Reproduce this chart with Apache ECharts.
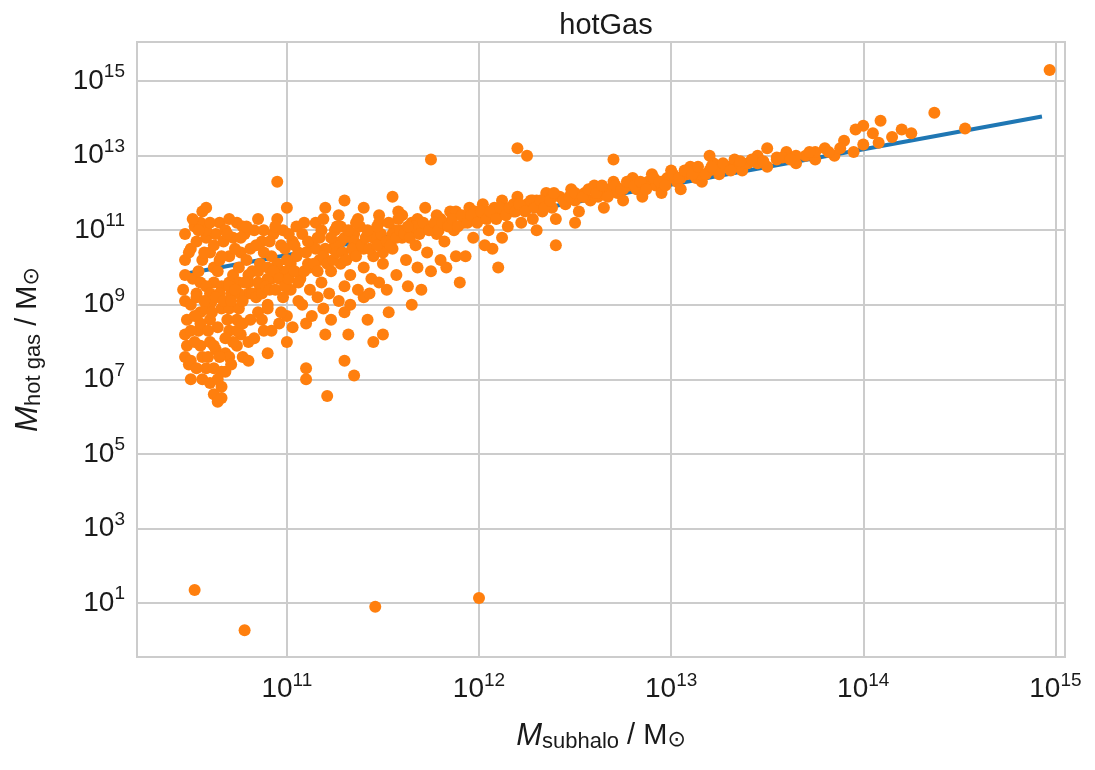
<!DOCTYPE html>
<html><head><meta charset="utf-8">
<script src="https://cdn.jsdelivr.net/npm/echarts@6/dist/echarts.min.js"></script>
<style>html,body{margin:0;padding:0;background:#fff}#c{width:1095px;height:770px}</style>
</head><body><div id="c"></div>
<script>
// all values are log10 of masses in solar masses
var xTicks = [11, 12, 13, 14, 15];
var yTicks = [1, 3, 5, 7, 9, 11, 13, 15];
// fitted relation (blue line)
var fitLine = [[10.48, 9.84], [14.93, 14.05]];
// galaxies: [log M_subhalo, log M_hot gas]
var galaxies = [
[10.47,10.9],[10.47,10.2],[10.46,9.4],[10.47,9.1],[10.48,8.6],[10.47,8.2],[10.48,7.9],[10.47,7.6],[10.49,7.4],[10.5,7.5],
[10.5,9.0],[10.51,9.7],[10.5,10.5],[10.52,11.1],[10.55,11.2],[10.56,11.5],[10.58,11.6],[10.58,10.8],[10.56,10.2],[10.55,9.6],
[10.53,9.3],[10.55,8.8],[10.54,8.3],[10.55,7.9],[10.56,7.6],[10.58,7.3],[10.6,8.0],[10.6,8.6],[10.61,9.1],[10.62,9.6],
[10.62,10.0],[10.6,10.4],[10.63,10.9],[10.65,11.2],[10.67,10.7],[10.66,9.5],[10.66,8.9],[10.64,8.4],[10.63,7.8],[10.62,7.3],
[10.6,6.9],[10.62,6.6],[10.64,6.4],[10.66,6.8],[10.68,7.2],[10.68,7.7],[10.7,8.3],[10.7,8.9],[10.71,9.3],[10.72,9.8],
[10.7,10.3],[10.72,10.8],[10.74,11.2],[10.77,11.1],[10.76,10.4],[10.75,9.6],[10.75,8.9],[10.76,8.2],[10.77,7.6],[10.74,7.9],
[10.8,7.5],[10.8,8.0],[10.81,8.6],[10.8,9.3],[10.82,9.9],[10.81,10.5],[10.83,11.0],[10.85,11.3],[10.87,10.7],[10.86,10.1],
[10.86,9.5],[10.85,8.8],[10.88,8.3],[10.9,7.7],[10.9,9.0],[10.92,9.7],[10.92,10.3],[10.93,10.9],[10.95,11.3],[10.97,10.6],
[10.97,9.9],[10.98,9.2],[10.96,8.5],[11.0,8.0],[11.0,8.7],[11.02,9.4],[11.02,10.1],[11.03,10.7],[11.05,11.1],[11.06,10.4],
[11.07,9.7],[11.08,9.0],[11.1,8.5],[11.1,7.0],[11.12,9.4],[11.12,10.0],[11.13,10.6],[11.15,11.2],[11.17,10.8],[11.17,10.2],
[11.18,9.6],[11.19,8.9],[11.2,8.2],[11.21,6.55],[11.22,9.3],[11.23,9.9],[11.24,10.5],[11.25,11.0],[11.27,11.4],[11.28,10.7],
[11.28,10.1],[11.3,9.5],[11.3,8.8],[11.32,8.2],[11.33,9.8],[11.35,10.4],[11.35,10.9],[11.37,11.3],[11.38,10.6],[11.4,10.0],
[11.4,9.2],[11.42,8.6],[11.44,9.7],[11.45,10.3],[11.46,10.9],[11.48,11.4],[11.5,10.7],[11.5,10.1],[11.52,9.4],[11.53,8.8],
[11.55,10.5],[11.56,11.0],[11.58,11.5],[11.6,10.8],[11.62,10.2],[11.63,9.5],[11.65,11.2],[11.67,10.6],[11.7,11.1],[11.72,11.6],
[11.73,10.4],[11.75,9.9],[11.78,10.9],[11.8,11.3],[11.82,10.7],[11.85,11.5],[11.87,11.0],[11.88,10.3],[11.9,9.6],[11.92,11.2],
[11.95,11.6],[11.97,10.8],[12.0,11.3],[12.02,11.7],[12.05,11.0],[12.07,10.5],[12.1,11.4],[12.12,11.8],[12.15,11.1],[12.18,11.5],
[12.2,11.9],[12.22,11.2],[12.25,11.6],[12.28,11.3],[12.3,11.8],[12.33,11.5],[12.35,12.0],[12.38,11.6],[12.4,11.3],[12.42,11.9],
[12.45,11.7],[12.48,12.1],[12.5,11.8],[12.52,11.5],[12.55,12.0],[12.58,11.8],[12.6,12.2],[12.62,11.9],[12.65,11.6],[12.68,12.1],
[12.7,12.3],[12.72,12.0],[12.75,11.8],[12.78,12.2],[12.8,12.4],[12.82,12.1],[12.85,11.9],[12.88,12.3],[12.9,12.5],[12.92,12.2],
[12.95,12.0],[12.98,12.4],[13.0,12.6],[13.03,12.3],[13.05,12.1],[13.08,12.5],[13.1,12.7],[13.13,12.4],[13.16,12.3],[13.2,12.6],
[13.22,12.8],[13.25,12.5],[13.3,12.7],[13.33,12.9],[13.37,12.6],[13.4,12.8],[13.45,13.0],[13.5,12.7],[13.55,12.9],[13.6,13.1],
[13.65,12.8],[13.7,13.0],[13.75,12.9],[13.8,13.2],[13.85,13.0],[13.9,13.4],[13.95,13.1],[14.0,13.3],[14.05,13.6],[14.08,13.35],
[14.09,13.94],[14.15,13.5],[14.2,13.7],[14.25,13.6],[14.37,14.15],[14.53,13.73],[14.97,15.3],[13.5,13.2],[14.0,13.8],[13.96,13.7],
[12.2,13.2],[11.75,12.9],[12.25,13.0],[12.7,12.9],[13.2,13.0],[11.55,11.9],[11.0,11.6],[10.95,12.3],[10.7,11.3],[11.3,11.8],
[11.6,11.4],[11.4,11.6],[11.2,11.6],[11.8,10.2],[12.1,10.0],[12.4,10.6],[11.65,9.0],[11.5,8.2],[11.45,8.0],[11.35,7.1],
[11.3,7.5],[11.1,7.3],[10.9,8.9],[10.78,0.27],[10.52,1.35],[11.46,0.9],[12.0,1.13],[10.58,9.5],[10.65,10.2],[10.75,10.0],
[10.85,9.9],[10.95,10.1],[11.05,10.3],[11.15,10.5],[11.25,10.6],[11.35,10.7],[11.45,10.8],[11.55,10.9],[11.65,11.0],[11.75,11.1],
[11.85,11.2],[11.95,11.3],[12.05,11.4],[12.15,11.5],[12.25,11.7],[12.35,11.7],[12.45,11.8],[12.55,11.9],[12.65,12.0],[12.75,12.1],
[12.85,12.2],[12.95,12.3],[13.05,12.4],[13.15,12.5],[13.25,12.6],[13.35,12.7],[13.45,12.8],[13.55,12.95],[13.65,13.0],[13.75,13.1],
[10.6,9.3],[10.7,9.6],[10.8,9.8],[10.9,10.0],[11.0,10.2],[11.1,10.4],[11.2,10.5],[11.3,10.8],[11.4,10.5],[11.5,10.4],
[10.52,8.0],[10.55,8.5],[10.6,9.0],[10.65,9.3],[10.7,9.5],[10.75,9.3],[10.8,9.6],[10.85,9.6],[10.9,9.7],[11.0,9.9],
[10.53,10.7],[10.58,11.0],[10.68,11.0],[10.78,10.9],[10.88,11.0],[10.98,11.0],[11.08,10.9],[11.18,11.0],[11.28,11.1],[11.38,11.1],
[11.48,11.2],[11.58,11.3],[11.68,11.3],[11.78,11.4],[11.88,11.5],[11.98,11.5],[12.08,11.6],[12.18,11.7],[12.28,11.8],[12.38,11.9],
[10.66,7.2],[10.7,7.6],[10.72,8.0],[10.58,8.9],[10.54,9.9],[10.57,10.4],
[10.5,8.3],[10.52,8.7],[10.53,9.2],[10.57,9.1],[10.59,8.3],[10.61,8.8],[10.63,9.2],[10.64,9.9],[10.67,9.1],[10.69,8.6],
[10.71,9.1],[10.73,9.4],[10.74,8.6],[10.77,9.1],[10.78,9.6],[10.79,10.2],[10.82,9.3],[10.84,9.2],[10.87,9.3],[10.89,9.5],
[10.91,9.4],[10.93,9.9],[10.94,9.4],[10.96,9.7],[10.99,9.5],[11.01,9.7],[11.04,9.9],[11.06,9.6],[11.09,9.9],[11.11,10.1],
[11.14,10.1],[11.16,9.9],[11.19,10.3],[11.21,10.1],[11.24,10.2],[11.26,10.4],[11.29,10.4],[11.31,10.2],[11.34,10.5],[11.36,10.3],
[11.39,10.6],[11.41,10.8],[11.43,10.5],[11.47,10.6],[11.49,10.9],[11.52,10.7],[11.54,10.6],[11.57,10.8],[11.59,11.0],[11.61,10.9],
[11.64,10.8],[11.66,11.1],[11.69,10.9],[11.71,11.2],[11.74,11.0],[11.77,11.2],[11.79,11.0],[11.81,11.2],[11.84,11.1],[11.86,11.3],
[11.89,11.1],[11.91,11.4],[11.94,11.2],[11.96,11.4],[11.99,11.2],[12.01,11.5],[12.04,11.3],[12.06,11.5],[12.09,11.3],[12.11,11.6],
[12.14,11.4],[12.16,11.6],[12.19,11.5],[12.21,11.7],[12.24,11.5],[12.27,11.8],[12.29,11.6],[12.32,11.8],[12.34,11.6],[12.37,11.8],
[12.39,12.0],[12.44,11.8],[12.47,11.9],[12.5,12.0],[12.54,11.9],[12.57,12.1],[12.61,12.0],[12.64,12.2],[12.67,11.9],[12.71,12.2],
[12.74,12.1],[12.77,12.3],[12.81,12.2],[12.84,12.3],[12.87,12.1],[12.91,12.4],[12.94,12.3],[12.97,12.2],[13.01,12.5],[13.04,12.4],
[13.07,12.6],[13.11,12.5],[13.14,12.7],[13.18,12.5],[13.21,12.7],[13.27,12.8],[13.31,12.6],[13.36,12.85],[13.42,12.9],[13.48,12.85],
[13.58,12.95],[13.62,12.9],[13.72,13.1],[13.82,13.1],[13.88,13.2],[10.47,9.8],[10.49,10.4],[10.51,11.3],[10.54,11.0],[10.6,11.2],
[10.62,10.6],[10.66,10.3],[10.69,10.9],[10.73,10.5],[10.76,10.8],[10.79,11.1],[10.84,10.6],[10.88,10.4],[10.91,10.7],[10.94,11.1],
[10.99,10.5],[11.01,10.9],[11.04,10.6],[11.09,11.2],[11.11,10.7],[11.16,10.8],[11.19,11.3],[11.23,10.8],[11.26,11.1],[11.32,11.0],
[11.36,11.2],[11.42,11.0],[11.47,11.1],[11.53,11.2],[11.63,11.1],[10.5,7.0],[10.53,7.3],[10.56,7.0],[10.59,7.6],[10.62,7.9],
[10.65,7.6],[10.64,7.0],[10.66,6.5],[10.68,8.1],[10.71,7.4],[10.74,8.3],[10.77,8.5],[10.83,8.1],[10.87,8.6],[10.92,8.3],
[10.97,8.8],[11.03,8.4],[11.06,9.1],[11.13,8.7],[11.16,9.2],[11.23,8.6],[11.27,9.1],[11.33,9.0],[11.37,9.4],[11.43,9.3],
[11.48,9.6],[11.57,9.8],[11.68,10.0],[11.7,9.4],[11.83,10.0],[11.93,10.3],[12.03,10.6],[12.12,10.8],[12.3,11.0],[12.5,11.2]
];

function sup(v) { return '10{s|' + v + '}'; }

var ink = '#1a1a1a';
var chart = echarts.init(document.getElementById('c'));
var gridLine = { show: true, lineStyle: { color: '#cccccc', width: 2 } };
var labelStyle = { formatter: sup, fontFamily: 'Liberation Sans', fontSize: 28, color: ink,
  rich: { s: { fontFamily: 'Liberation Sans', fontSize: 19, padding: [0, 0, 18, 0], color: ink } } };
function axisName(sub) {
  return {
    text: '{i|M}{sub|' + sub + '}{n| / M}{sub2|⊙}',
    style: { fontFamily: 'Liberation Sans', fontSize: 30, color: ink,
      rich: { i: { fontStyle: 'italic', fontSize: 31, fontFamily: 'Liberation Sans', color: ink },
              sub: { fontSize: 22, padding: [12, 0, 0, 0], fontFamily: 'Liberation Sans', color: ink },
              n: { fontSize: 29, fontFamily: 'Liberation Sans', color: ink },
              sub2: { fontSize: 22, padding: [8, 0, 0, 0], fontFamily: 'DejaVu Sans', color: ink } } }
  };
}
var xn = axisName('subhalo'), yn = axisName('hot gas');
chart.setOption({
  backgroundColor: '#ffffff',
  animation: false,
  title: { text: 'hotGas', left: 601, top: 6, textAlign: 'center',
    textStyle: { fontFamily: 'Liberation Sans', fontSize: 29, fontWeight: 'normal', color: ink } },
  grid: { left: 137, right: 30, top: 42, bottom: 113, show: true, borderColor: '#cccccc', borderWidth: 2 },
  xAxis: {
    type: 'value', min: 10.22, max: 15.05,
    axisLine: { show: false }, axisTick: { show: false, customValues: xTicks },
    splitLine: gridLine,
    axisLabel: Object.assign({ customValues: xTicks, margin: 14 }, labelStyle),
    name: xn.text, nameLocation: 'middle', nameGap: 62, nameTextStyle: xn.style
  },
  yAxis: {
    type: 'value', min: -0.45, max: 16.05,
    axisLine: { show: false }, axisTick: { show: false, customValues: yTicks },
    splitLine: gridLine,
    axisLabel: Object.assign({ customValues: yTicks, margin: 12 }, labelStyle),
    name: yn.text, nameLocation: 'middle', nameGap: 92, nameRotate: 90, nameTextStyle: yn.style
  },
  series: [
    { type: 'line', data: fitLine, symbol: 'none', lineStyle: { color: '#1f77b4', width: 4 }, z: 2 },
    { type: 'scatter', data: galaxies, symbolSize: 12, itemStyle: { color: '#ff7f0e', opacity: 1 }, z: 3 }
  ]
});
</script></body></html>
